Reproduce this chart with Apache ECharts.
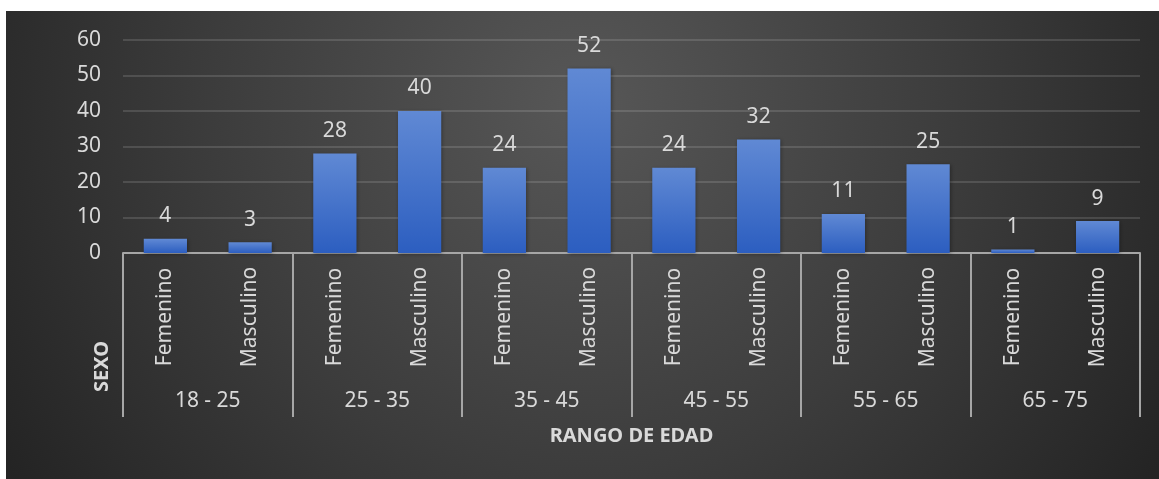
<!DOCTYPE html>
<html>
<head>
<meta charset="utf-8">
<script src="https://cdn.jsdelivr.net/npm/echarts@6/dist/echarts.min.js"></script>
<style>
  html, body { margin: 0; padding: 0; background: #fff; }
  #chart { position: absolute; left: 6px; top: 11px; width: 1153px; height: 468px; }
</style>
</head>
<body>
<div id="chart"></div>
<script>
const ageGroups = ["18 - 25", "25 - 35", "35 - 45", "45 - 55", "55 - 65", "65 - 75"];
const sexes = ["Femenino", "Masculino"];
const counts = [4, 3, 28, 40, 24, 52, 24, 32, 11, 25, 1, 9];

// one category per (age group, sex) pair
const sexLabels = [];
ageGroups.forEach(() => sexes.forEach(s => sexLabels.push(s)));

const font = "'Noto Sans', 'Open Sans', sans-serif";
const textColor = "#d9d9d9";

const chart = echarts.init(document.getElementById("chart"));
chart.setOption({
    backgroundColor: {
        type: "radial", x: 0.5, y: 0.2, r: 1.45,
        colorStops: [
            { offset: 0, color: "#575757" },
            { offset: 0.55, color: "#3c3c3c" },
            { offset: 1, color: "#242424" }
        ]
    },
    textStyle: { fontFamily: font },
    grid: { left: 117, right: 19, top: 29, bottom: 226 },
    graphic: [{
        type: "text", left: 86, top: 330, rotation: Math.PI / 2,
        style: { text: "SEXO", fill: textColor, font: "bold 20px " + font }
    }],
    xAxis: [
        {
            type: "category",
            data: sexLabels,
            axisLine: { lineStyle: { color: "#a6a6a6", width: 2 } },
            axisTick: { show: false },
            axisLabel: {
                rotate: 90, align: "center", verticalAlign: "middle",
                margin: 64, color: textColor, fontSize: 21, interval: 0
            }
        },
        {
            type: "category",
            data: ageGroups,
            position: "bottom",
            axisLine: { show: false },
            axisTick: { show: true, length: 164, lineStyle: { color: "#a6a6a6", width: 2 } },
            axisLabel: { margin: 138, color: textColor, fontSize: 21, interval: 0 },
            name: "RANGO DE EDAD",
            nameLocation: "middle",
            nameGap: 173,
            nameTextStyle: { color: textColor, fontSize: 20, fontWeight: "bold" }
        }
    ],
    yAxis: {
        type: "value", min: 0, max: 60, interval: 10,
        axisLine: { show: false },
        axisTick: { show: false },
        axisLabel: { color: textColor, fontSize: 21, margin: 22 },
        splitLine: { lineStyle: { color: "rgba(255,255,255,0.13)", width: 2 } }
    },
    series: [{
        type: "bar",
        data: counts,
        barWidth: "51%",
        itemStyle: {
            color: {
                type: "linear", x: 0, y: 0, x2: 0, y2: 1,
                colorStops: [
                    { offset: 0, color: "#6089d4" },
                    { offset: 1, color: "#2c5ec0" }
                ]
            },
            shadowColor: "rgba(0,0,0,0.35)", shadowBlur: 4, shadowOffsetX: 1, shadowOffsetY: 1
        },
        label: { show: true, position: "top", distance: 12, color: textColor, fontSize: 21 }
    }]
});
</script>
</body>
</html>
